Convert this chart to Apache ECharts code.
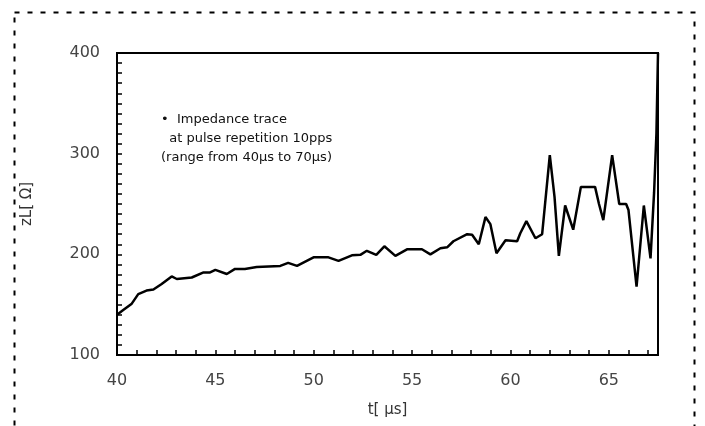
<!DOCTYPE html>
<html>
<head>
<meta charset="utf-8">
<script src="https://cdn.jsdelivr.net/npm/echarts@6/dist/echarts.min.js"></script>
<style>
html,body{margin:0;padding:0;background:#fff;}
#chart{width:705px;height:426px;}
</style>
</head>
<body>
<div id="chart"></div>
<script>
// Time (µs) and impedance (Ω)
var tValues = [40.0,40.3,40.75,41.08,41.5,41.85,42.27,42.78,43.04,43.8,44.4,44.73,45.0,45.58,46.0,46.5,47.1,48.3,48.7,49.15,49.99,50.75,51.26,51.94,52.37,52.7,53.18,53.59,54.15,54.74,55.5,55.93,56.44,56.78,57.1,57.8,58.05,58.39,58.73,58.98,59.29,59.75,60.34,60.5,60.81,61.27,61.61,62.0,62.24,62.46,62.78,63.19,63.58,64.3,64.5,64.72,65.17,65.53,65.88,66.0,66.41,66.78,67.12,67.3,67.42,67.5];
var zValues = [140,144.5,151,160.5,164,165,170.5,178,175.5,177,182,182,184.5,180.5,185.5,185.5,187.5,188.5,191.5,188.5,197,197,193.5,199,199.5,203.5,199.5,208,198.5,205,205,200,206,207,213,220,219.5,210,237,230,201,214,213,221,233,216,220,298.5,257,198.5,248.5,224.5,267,267,250,234,298.5,250,250,244,168,248.5,196,261,320,400];
var annotationLines = ['\u2022  Impedance trace', '  at pulse repetition 10pps', '(range from 40\u03bcs to 70\u03bcs)'];
var xTitle = 't[ \u03bcs]';
var yTitle = 'zL[ \u03a9]';

var data = tValues.map(function(t, i){ return [t, zValues[i]]; });
var chart = echarts.init(document.getElementById('chart'));
var font = 'DejaVu Sans, Verdana, sans-serif';
chart.setOption({
  animation: false,
  backgroundColor: '#fff',
  grid: {left: 117, right: 47, top: 53, bottom: 71, show: true, borderColor: '#000', borderWidth: 2, backgroundColor: 'transparent'},
  xAxis: {
    type: 'value', min: 40, max: 67.5, interval: 5,
    name: xTitle, nameLocation: 'middle', nameGap: 48,
    nameTextStyle: {fontSize: 15, color: '#333', fontFamily: font},
    axisLine: {lineStyle: {color: '#000', width: 2}},
    axisTick: {inside: true, length: 5, lineStyle: {color: '#000', width: 1.5}},
    minorTick: {show: true, splitNumber: 5, length: 5, lineStyle: {color: '#000', width: 1.5}},
    axisLabel: {fontSize: 16, color: '#444', margin: 18, fontFamily: font, showMaxLabel: false,
      formatter: function(v){ return Number.isInteger(v) ? String(v) : ''; }},
    splitLine: {show: false}
  },
  yAxis: {
    type: 'value', min: 100, max: 400, interval: 100,
    name: yTitle, nameLocation: 'middle', nameGap: 82, nameRotate: 90,
    nameTextStyle: {fontSize: 15, color: '#333', fontFamily: font},
    axisLine: {show: true, lineStyle: {color: '#000', width: 2}},
    axisTick: {inside: true, length: 5, lineStyle: {color: '#000', width: 1.5}},
    minorTick: {show: true, splitNumber: 10, length: 5, lineStyle: {color: '#000', width: 1.5}},
    axisLabel: {fontSize: 16, color: '#444', margin: 17, fontFamily: font},
    splitLine: {show: false}
  },
  graphic: [
    {type: 'rect', left: 12, top: 10, shape: {width: 680, height: 430},
      style: {fill: 'none', stroke: '#000', lineWidth: 2, lineDash: [5, 8]}, silent: true},
    {type: 'text', left: 161, top: 110, style: {text: annotationLines.join('\n'), font: '13px ' + font, fill: '#111', lineHeight: 19}}
  ],
  series: [{
    type: 'line', data: data, showSymbol: false, clip: true,
    lineStyle: {color: '#000', width: 2.5}, z: 3
  }]
});
</script>
</body>
</html>
